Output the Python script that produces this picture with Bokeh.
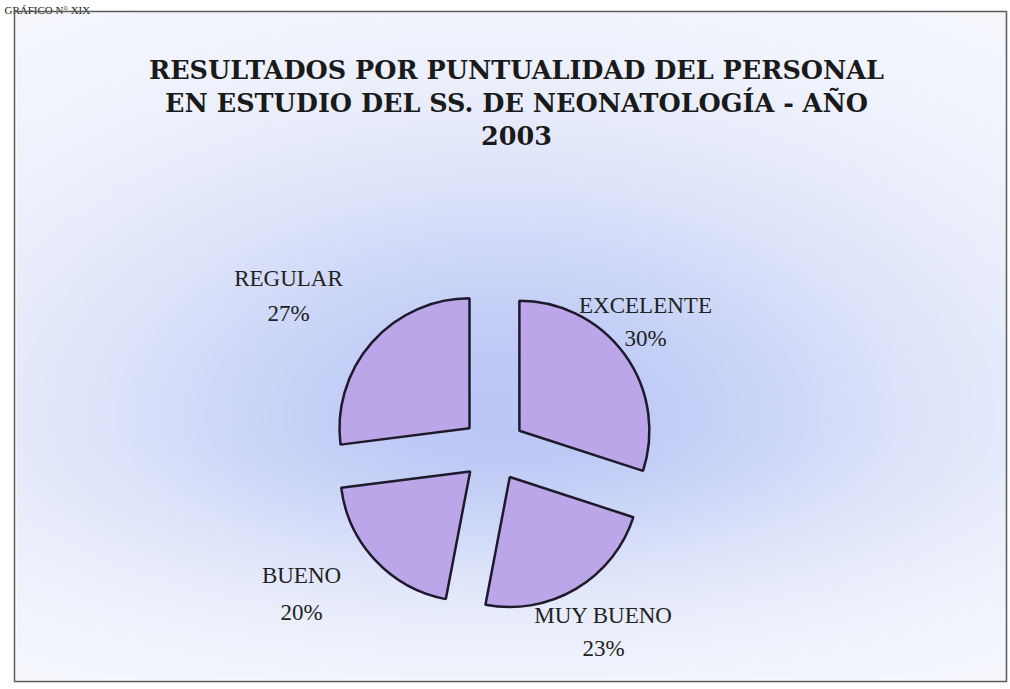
import numpy as np
from bokeh.plotting import figure
from bokeh.models import Range1d
from bokeh.core.properties import value
from bokeh.embed import file_html
from bokeh.resources import INLINE

# ---- data ----
categories = ["EXCELENTE", "MUY BUENO", "BUENO", "REGULAR"]
percents = [30, 23, 20, 27]
title_lines = ["RESULTADOS POR PUNTUALIDAD DEL PERSONAL",
               "EN ESTUDIO DEL SS. DE NEONATOLOGÍA - AÑO",
               "2003"]
header_text = "GRÁFICO N° XIX"

# ---- layout (image pixel coordinates, y measured from top) ----
W, H = 1010, 689
def Y(y_img):
    return H - y_img

cx, cy = 493, Y(449)
radius = 130
explode = 32
label_pos = [(645, 305, 338), (603, 615, 648), (301, 575, 612), (288, 278, 313)]

p = figure(width=W, height=H, x_range=Range1d(0, W), y_range=Range1d(0, H),
           output_backend="svg", toolbar_location=None, min_border=0)
p.axis.visible = False
p.grid.visible = False
p.outline_line_color = None
p.background_fill_color = "white"
p.border_fill_color = "white"

# ---- background gradient ----
gx = np.arange(0, W, 2, dtype=float)
gy = np.arange(0, H, 2, dtype=float)
XX, YY = np.meshgrid(gx, gy)
yimg = H - YY
dx = (XX - 505) / 440.0
dyv = yimg - 420
sy = np.where(dyv > 0, 165.0, 260.0)
t = np.exp(-(dx ** 2 + (dyv / sy) ** 2))
c_in = np.array([187, 200, 246], dtype=float)
c_out = np.array([246, 248, 253], dtype=float)
rgb = c_out[None, None, :] + (c_in - c_out)[None, None, :] * t[..., None]
inside = (XX > 14) & (XX < 1006) & (yimg > 11) & (yimg < 680)
rgb = np.where(inside[..., None], rgb, 255.0)
rgb = np.clip(rgb, 0, 255).astype(np.uint32)
img = (255 << 24) | (rgb[..., 2] << 16) | (rgb[..., 1] << 8) | rgb[..., 0]
img = img.astype(np.uint32)
p.image_rgba(image=[img], x=0, y=0, dw=W, dh=H)

# ---- header text ----
p.text(x=[4], y=[Y(9)], text=[header_text], text_font=value("Liberation Serif"),
       text_font_size="11px", text_align="left", text_baseline="alphabetic",
       text_color="#222222")

# ---- border box ----
p.quad(left=14, right=1006, bottom=Y(681), top=Y(11), fill_color=None,
       line_color="#5a5a5a", line_width=1.5)

# ---- pie wedges ----
vals = np.array(percents, dtype=float)
frac = vals / vals.sum()
ends = np.pi / 2 - np.concatenate([[0], np.cumsum(frac)[:-1]]) * 2 * np.pi
starts = ends - frac * 2 * np.pi
mids = (starts + ends) / 2
wx = cx + explode * np.cos(mids)
wy = cy + explode * np.sin(mids)
p.wedge(x=wx, y=wy, radius=radius, start_angle=starts, end_angle=ends,
        fill_color="#bca6ea", line_color="#1e1a2a", line_width=2.5)

# ---- labels ----
for cat, pct, (lx, ly1, ly2) in zip(categories, percents, label_pos):
    p.text(x=[lx], y=[Y(ly1)], text=[cat], text_font=value("Liberation Serif"),
           text_font_size="23px", text_align="center", text_baseline="middle",
           text_color="#222222")
    p.text(x=[lx], y=[Y(ly2)], text=[f"{pct}%"], text_font=value("Liberation Serif"),
           text_font_size="23px", text_align="center", text_baseline="middle",
           text_color="#222222")

# ---- title ----
for i, line in enumerate(title_lines):
    p.text(x=[516], y=[Y(69 + 33 * i)], text=[line], text_font=value("DejaVu Serif"),
           text_font_style="bold", text_font_size="25.5px", text_align="center",
           text_baseline="middle", text_color="#1a1a1a")

open("out.html", "w").write(file_html(p, INLINE))
